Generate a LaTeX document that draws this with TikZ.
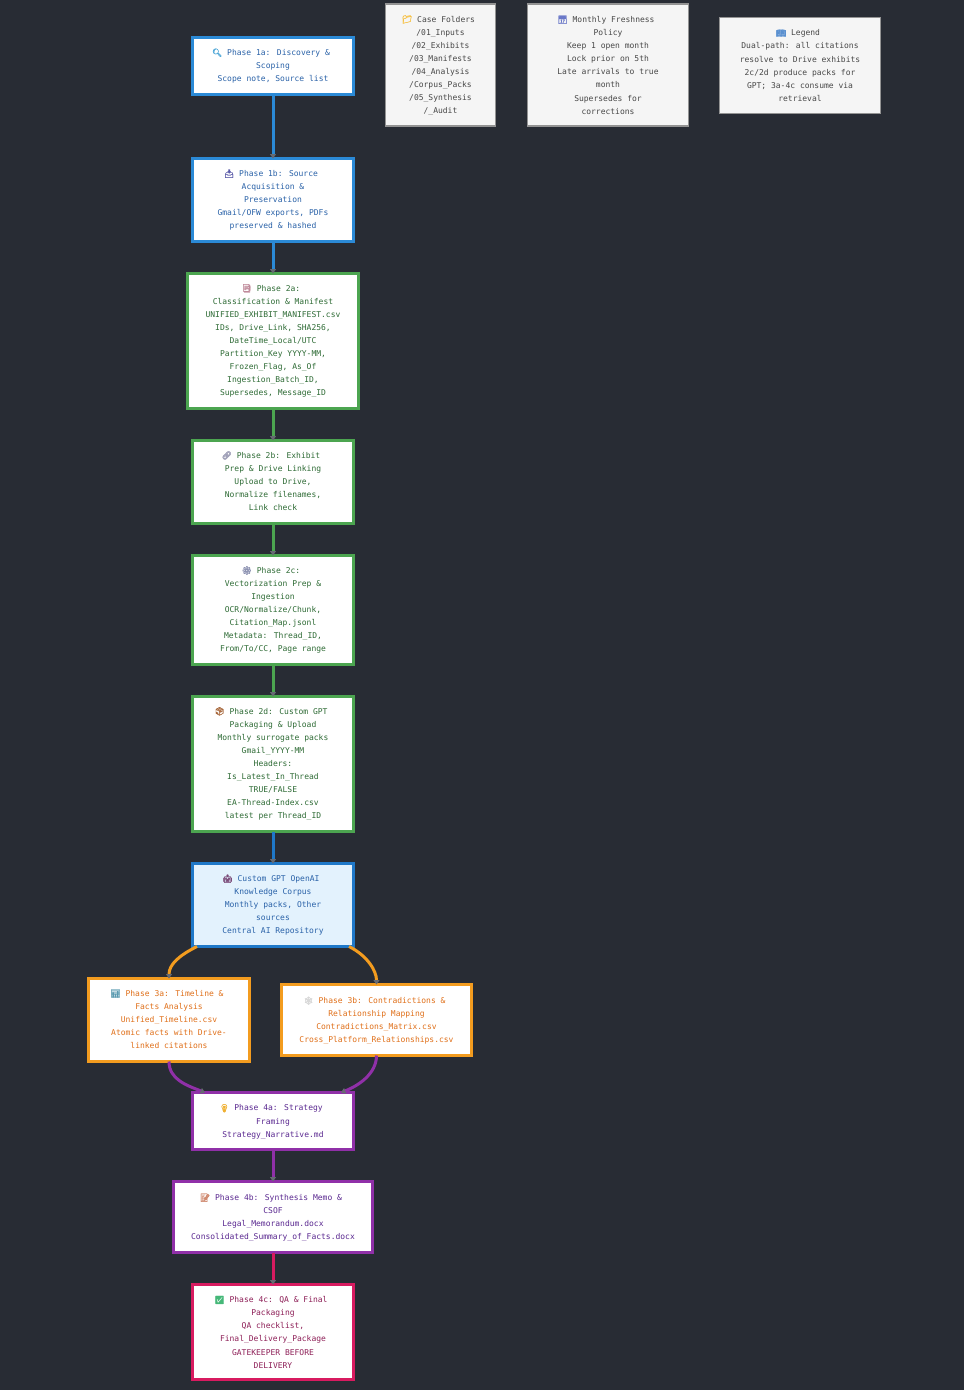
\documentclass[tikz,border=0pt]{standalone}
\usepackage{fontspec}
\setmonofont{DejaVu Sans Mono}
\setmainfont{DejaVu Sans Mono}
\newfontfamily\emojifont[FakeBold=2]{Noto Emoji}
\usetikzlibrary{arrows.meta,calc}
\definecolor{bgc}{HTML}{282C34}
\definecolor{arrowc}{HTML}{666A72}
\definecolor{blueb}{HTML}{2B8AD6}
\definecolor{bluec}{HTML}{1F78C8}
\definecolor{bluet}{HTML}{2A62A8}
\definecolor{greenb}{HTML}{4CA550}
\definecolor{greent}{HTML}{2E6B35}
\definecolor{orangeb}{HTML}{F39C1F}
\definecolor{oranget}{HTML}{E0701A}
\definecolor{purpleb}{HTML}{9030A8}
\definecolor{purplet}{HTML}{5A2890}
\definecolor{pinkb}{HTML}{D81B60}
\definecolor{pinkt}{HTML}{8E2058}
\definecolor{corpusf}{HTML}{E3F2FD}
\newcommand{\emo}[2]{\kern-4pt{\color[HTML]{#1}\emojifont #2}\kern5pt}
\newcommand{\lowertext}{\rule{0pt}{8pt}}
\newcommand{\raisetext}{\rule[-2pt]{0pt}{2pt}}
\tikzset{
  x=1pt,y=-1pt,
  phase/.style={draw,fill=white,line width=2.5pt,inner sep=0pt,outer sep=0pt,align=center,
    font=\fontsize{8}{13.1}\selectfont},
  phaseblue/.style={phase,draw=blueb,text=bluet},
  phasegreen/.style={phase,draw=greenb,text=greent},
  phaseorange/.style={phase,draw=orangeb,text=oranget},
  phasepurple/.style={phase,draw=purpleb,text=purplet},
  phasepink/.style={phase,draw=pinkb,text=pinkt,line width=3pt},
  corpus/.style={phase,draw=bluec,fill=corpusf,text=bluet,line width=3pt},
  note/.style={phase,draw=gray!85,fill=black!4,text=black!72,line width=1.5pt},
  link/.style={line width=3pt,-{Triangle[color=arrowc,length=4.5pt,width=6pt]}},
}
\begin{document}
\begin{tikzpicture}
\useasboundingbox (0,0) rectangle (964,1390);
\fill[bgc] (0,0) rectangle (964,1390);
\node[phaseblue,minimum width=161pt,minimum height=57pt] (p1a) at (273,66) {\emo{4FA8D8}{🔍}Phase 1a: Discovery \&\\Scoping\\Scope note, Source list};
\node[phaseblue,minimum width=161pt,minimum height=83pt] (p1b) at (273,200) {\emo{5A5AA8}{📥}Phase 1b: Source\\Acquisition \&\\Preservation\\Gmail/OFW exports, PDFs\\preserved \& hashed};
\node[phasegreen,minimum width=171pt,minimum height=135pt] (p2a) at (273,341) {\emo{C08A9A}{📑}Phase 2a:\\Classification \& Manifest\\UNIFIED\_EXHIBIT\_MANIFEST.csv\\IDs, Drive\_Link, SHA256,\\DateTime\_Local/UTC\\Partition\_Key YYYY-MM,\\Frozen\_Flag, As\_Of\\Ingestion\_Batch\_ID,\\Supersedes, Message\_ID};
\node[phasegreen,minimum width=161pt,minimum height=83pt] (p2b) at (273,482) {\emo{A0A0B8}{🔗}Phase 2b: Exhibit\\Prep \& Drive Linking\\Upload to Drive,\\Normalize filenames,\\Link check\raisetext};
\node[phasegreen,minimum width=161pt,minimum height=109pt] (p2c) at (273,610) {\emo{8A90B0}{⚙}Phase 2c:\\Vectorization Prep \&\\Ingestion\\OCR/Normalize/Chunk,\\Citation\_Map.jsonl\\Metadata: Thread\_ID,\\From/To/CC, Page range};
\node[phasegreen,minimum width=161pt,minimum height=135pt] (p2d) at (273,764) {\emo{A8683C}{📦}Phase 2d: Custom GPT\\Packaging \& Upload\\Monthly surrogate packs\\Gmail\_YYYY-MM\\Headers:\\Is\_Latest\_In\_Thread\\TRUE/FALSE\\EA-Thread-Index.csv\\latest per Thread\_ID};
\node[corpus,minimum width=161pt,minimum height=83pt] (gpt) at (273,905) {\emo{7A4A78}{🤖}Custom GPT OpenAI\\Knowledge Corpus\\Monthly packs, Other\\sources\\Central AI Repository};
\node[phaseorange,minimum width=161pt,minimum height=83pt] (p3a) at (169,1020) {\emo{5A9AB0}{📊}Phase 3a: Timeline \&\\Facts Analysis\\Unified\_Timeline.csv\\Atomic facts with Drive-\\linked citations\raisetext};
\node[phaseorange,minimum width=190pt,minimum height=71pt] (p3b) at (376.5,1020) {\lowertext\emo{D8D8D8}{🕸}Phase 3b: Contradictions \&\\Relationship Mapping\\Contradictions\_Matrix.csv\\Cross\_Platform\_Relationships.csv};
\node[phasepurple,minimum width=161pt,minimum height=57pt] (p4a) at (273,1121) {\lowertext\emo{F0B030}{💡}Phase 4a: Strategy\\Framing\\Strategy\_Narrative.md};
\node[phasepurple,minimum width=199pt,minimum height=71pt] (p4b) at (273,1217) {\lowertext\emo{D08A70}{📝}Phase 4b: Synthesis Memo \&\\CSOF\\Legal\_Memorandum.docx\\Consolidated\_Summary\_of\_Facts.docx};
\node[phasepink,minimum width=161pt,minimum height=95pt] (p4c) at (273,1332) {\emo{45B878}{✅}Phase 4c: QA \& Final\\Packaging\\QA checklist,\\Final\_Delivery\_Package\\GATEKEEPER BEFORE\\DELIVERY};
\node[note,minimum width=110pt,minimum height=122pt] (n1) at (440.5,65) {\lowertext\emo{F5C040}{📁}Case Folders\\/01\_Inputs\\/02\_Exhibits\\/03\_Manifests\\/04\_Analysis\\/Corpus\_Packs\\/05\_Synthesis\\/\_Audit};
\node[note,minimum width=161pt,minimum height=122pt] (n2) at (608,65) {\emo{6A78C8}{📅}Monthly Freshness\\Policy\\Keep 1 open month\\Lock prior on 5th\\Late arrivals to true\\month\\Supersedes for\\corrections};
\node[note,minimum width=161pt,minimum height=96pt] (n3) at (800,65.5) {\emo{5A90D0}{📖}Legend\\Dual-path: all citations\\resolve to Drive exhibits\\2c/2d produce packs for\\GPT; 3a-4c consume via\\retrieval};
\draw[link,blueb] (p1a) -- (p1b);
\draw[link,blueb] (p1b) -- (p2a);
\draw[link,greenb] (p2a) -- (p2b);
\draw[link,greenb] (p2b) -- (p2c);
\draw[link,greenb] (p2c) -- (p2d);
\draw[link,bluec] (p2d) -- (gpt);
\draw[link,orangeb] ([xshift=-76pt]gpt.south) .. controls +(-18,9) and +(0,-14) .. (p3a.north);
\draw[link,orangeb] ([xshift=76pt]gpt.south) .. controls +(18,9) and +(0,-14) .. (p3b.north);
\draw[link,purpleb] (p3a.south) .. controls +(0,18) and +(-18,-7) .. ([xshift=-68pt]p4a.north);
\draw[link,purpleb] (p3b.south) .. controls +(0,18) and +(18,-7) .. ([xshift=68pt]p4a.north);
\draw[link,purpleb] (p4a) -- (p4b);
\draw[link,pinkb] (p4b) -- (p4c);
\end{tikzpicture}
\end{document}
